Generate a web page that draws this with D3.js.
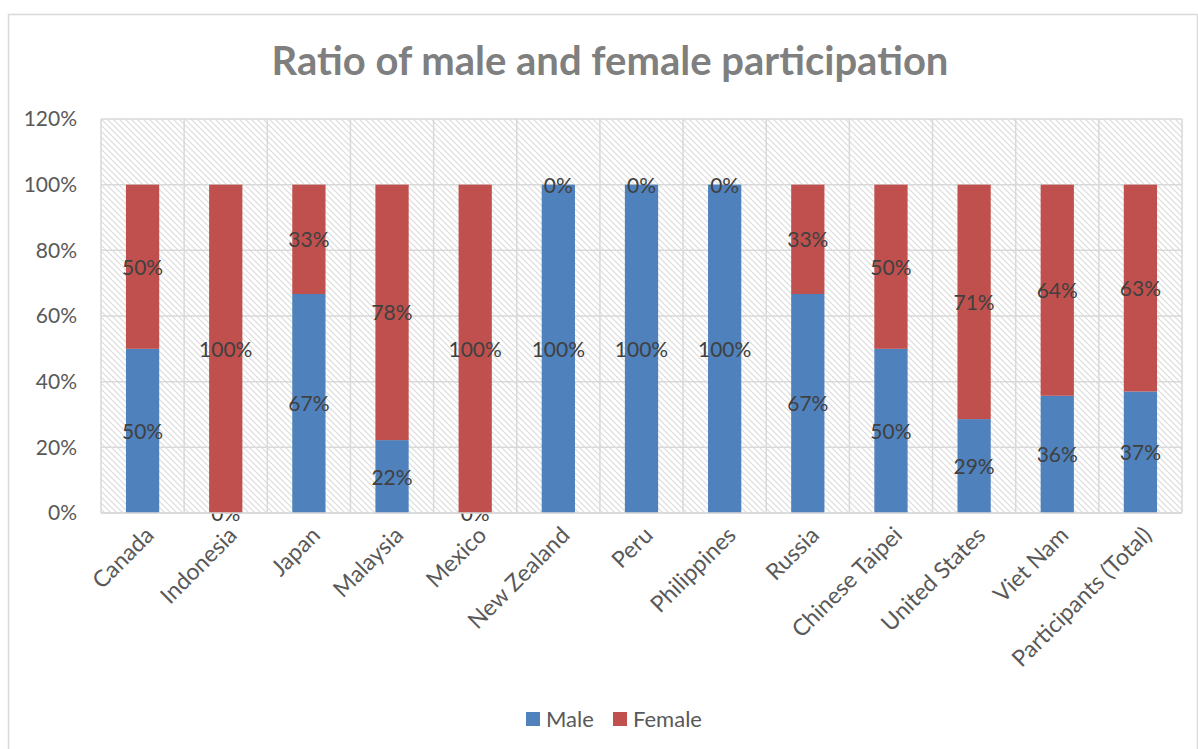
<!DOCTYPE html>
<html>
<head>
<meta charset="utf-8">
<script src="https://cdn.jsdelivr.net/npm/d3@7"></script>
<style>
  body { margin: 0; background: #fff; }
  svg text { font-family: Lato, "Open Sans", sans-serif; }
</style>
</head>
<body>
<script>
var countries = ['Canada', 'Indonesia', 'Japan', 'Malaysia', 'Mexico', 'New Zealand', 'Peru',
  'Philippines', 'Russia', 'Chinese Taipei', 'United States', 'Viet Nam', 'Participants (Total)'];
var male = [0.50, 0.00, 0.667, 0.222, 0.00, 1.00, 1.00, 1.00, 0.667, 0.50, 0.286, 0.357, 0.37];
var female = [0.50, 1.00, 0.333, 0.778, 1.00, 0.00, 0.00, 0.00, 0.333, 0.50, 0.714, 0.643, 0.63];
var yTicks = [0, 0.2, 0.4, 0.6, 0.8, 1.0, 1.2];
var seriesNames = ['Male', 'Female'];

var W = 1198, H = 749;
var colors = { Male: '#4f81bd', Female: '#c0504d' };

var svg = d3.select('body').append('svg')
  .attr('width', W)
  .attr('height', H);

// diagonal hatch for the plot area
var defs = svg.append('defs');
var pat = defs.append('pattern')
  .attr('id', 'hatch')
  .attr('patternUnits', 'userSpaceOnUse')
  .attr('width', 6)
  .attr('height', 6);
pat.append('rect').attr('width', 6).attr('height', 6).attr('fill', '#fff');
pat.append('path')
  .attr('d', 'M-1,-1 L7,7 M-1,5 L1,7 M5,-1 L7,1')
  .attr('stroke', '#dcdcdc')
  .attr('stroke-width', 1.2);

// chart border
svg.append('rect')
  .attr('x', 8.5).attr('y', 14.5)
  .attr('width', 1189).attr('height', 760)
  .attr('fill', 'none')
  .attr('stroke', '#d9d9d9')
  .attr('stroke-width', 1.5);

var plot = { left: 101, right: 1182, top: 119, bottom: 513 };

var x = d3.scaleBand()
  .domain(countries)
  .range([plot.left, plot.right]);

var y = d3.scaleLinear()
  .domain([0, 1.2])
  .range([plot.bottom, plot.top]);

svg.append('rect')
  .attr('x', plot.left).attr('y', plot.top)
  .attr('width', plot.right - plot.left)
  .attr('height', plot.bottom - plot.top)
  .attr('fill', 'url(#hatch)');

// gridlines
svg.append('g').selectAll('line.h')
  .data(yTicks)
  .enter()
  .append('line')
    .attr('x1', plot.left).attr('x2', plot.right)
    .attr('y1', function(d) { return y(d); })
    .attr('y2', function(d) { return y(d); })
    .attr('stroke', '#d9d9d9')
    .attr('stroke-width', 1.5);

svg.append('g').selectAll('line.v')
  .data(countries.concat(['__end']))
  .enter()
  .append('line')
    .attr('x1', function(d, i) { return i < countries.length ? x(d) : plot.right; })
    .attr('x2', function(d, i) { return i < countries.length ? x(d) : plot.right; })
    .attr('y1', plot.top).attr('y2', plot.bottom)
    .attr('stroke', '#d9d9d9')
    .attr('stroke-width', 1.5);

// y axis
var yAxis = svg.append('g')
  .attr('transform', 'translate(' + (plot.left - 21) + ',0)')
  .call(d3.axisLeft(y).tickValues(yTicks).tickSize(0).tickFormat(d3.format('.0%')));
yAxis.select('.domain').remove();
yAxis.selectAll('text')
  .attr('fill', '#595959')
  .style('font-size', '21px');

// x axis labels
svg.append('g').selectAll('text.cat')
  .data(countries)
  .enter()
  .append('text')
    .attr('transform', function(d) {
      return 'translate(' + (x(d) + x.bandwidth() / 2 + 7) + ',' + (plot.bottom + 18) + ') rotate(-45)';
    })
    .attr('text-anchor', 'end')
    .attr('dy', '0.35em')
    .attr('fill', '#595959')
    .style('font-size', '23px')
    .text(function(d) { return d; });

// stacked bars
var rows = countries.map(function(c, i) { return { country: c, Male: male[i], Female: female[i] }; });
var stacked = d3.stack().keys(seriesNames)(rows);
var barW = x.bandwidth() * 0.4;

var layers = svg.append('g').selectAll('g.layer')
  .data(stacked)
  .enter()
  .append('g')
    .attr('fill', function(d) { return colors[d.key]; });

layers.selectAll('rect')
  .data(function(d) { return d; })
  .enter()
  .append('rect')
    .attr('x', function(d) { return x(d.data.country) + (x.bandwidth() - barW) / 2; })
    .attr('y', function(d) { return y(d[1]); })
    .attr('width', barW)
    .attr('height', function(d) { return y(d[0]) - y(d[1]); });

// data labels
layers.selectAll('text')
  .data(function(d) { return d; })
  .enter()
  .append('text')
    .attr('x', function(d) { return x(d.data.country) + x.bandwidth() / 2; })
    .attr('y', function(d) { return y((d[0] + d[1]) / 2); })
    .attr('text-anchor', 'middle')
    .attr('dy', '0.38em')
    .attr('fill', '#404040')
    .style('font-size', '21px')
    .text(function(d) { return d3.format('.0%')(d[1] - d[0]); });

// axis line
svg.append('line')
  .attr('x1', plot.left).attr('x2', plot.right)
  .attr('y1', plot.bottom).attr('y2', plot.bottom)
  .attr('stroke', '#d9d9d9')
  .attr('stroke-width', 1.5);

// title
svg.append('text')
  .attr('x', 610)
  .attr('y', 75)
  .attr('text-anchor', 'middle')
  .attr('fill', '#7f7f7f')
  .style('font-size', '40px')
  .style('font-weight', 'bold')
  .text('Ratio of male and female participation');

// legend
var legendX = [526, 613];
var legend = svg.append('g').selectAll('g.legend')
  .data(seriesNames)
  .enter()
  .append('g')
    .attr('transform', function(d, i) { return 'translate(' + legendX[i] + ',712)'; });
legend.append('rect')
  .attr('width', 14).attr('height', 14)
  .attr('fill', function(d) { return colors[d]; });
legend.append('text')
  .attr('x', 20).attr('y', 7)
  .attr('dy', '0.35em')
  .attr('fill', '#595959')
  .style('font-size', '22px')
  .text(function(d) { return d; });
</script>
</body>
</html>
